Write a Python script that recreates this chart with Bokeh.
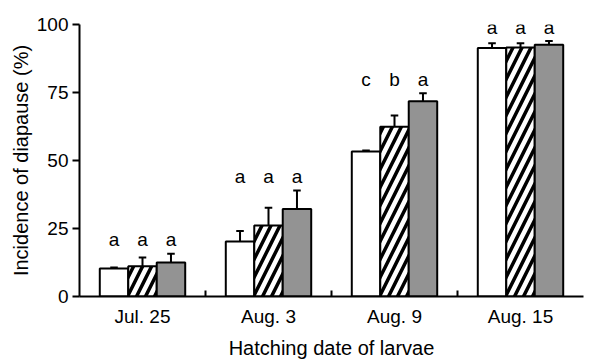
from bokeh.plotting import figure
from bokeh.models import Range1d, FixedTicker, ColumnDataSource
from bokeh.core.properties import value
from bokeh.embed import file_html
from bokeh.resources import INLINE

dates = ["Jul. 25", "Aug. 3", "Aug. 9", "Aug. 15"]
white_vals = [10.3, 20.2, 53.3, 91.4]
white_err = [0.4, 3.9, 0.4, 1.7]
hatch_vals = [11.1, 26.1, 62.4, 91.5]
hatch_err = [3.2, 6.5, 4.1, 1.6]
gray_vals = [12.5, 32.2, 71.8, 92.6]
gray_err = [3.2, 6.8, 2.9, 1.3]
white_letters = ["a", "a", "c", "a"]
hatch_letters = ["a", "a", "b", "a"]
gray_letters = ["a", "a", "a", "a"]
y_ticks = [0, 25, 50, 75, 100]

FONT = "Liberation Sans"
W = 0.226
CAP = 0.03

p = figure(frame_width=504, frame_height=272, output_backend="svg", toolbar_location=None,
           x_range=Range1d(0, len(dates)), y_range=Range1d(0, 100),
           min_border_left=79, min_border_right=1, min_border_top=24, min_border_bottom=57)
p.title.visible = False
p.outline_line_color = None
p.xgrid.visible = False
p.ygrid.visible = False
p.background_fill_color = "white"
p.border_fill_color = "white"

series = [
    (white_vals, white_err, white_letters, -W, dict(fill_color="white")),
    (hatch_vals, hatch_err, hatch_letters, 0.0, dict(fill_color="white", hatch_pattern="/",
                                                      hatch_color="black", hatch_scale=18, hatch_weight=3.5)),
    (gray_vals, gray_err, gray_letters, W, dict(fill_color="#939393")),
]

label_y = [max(w + we, h + he, g + ge) for w, we, h, he, g, ge in
           zip(white_vals, white_err, hatch_vals, hatch_err, gray_vals, gray_err)]

for vals, errs, letters, off, style in series:
    xs = [i + 0.5 + off for i in range(len(dates))]
    tops = [v + e for v, e in zip(vals, errs)]
    src = ColumnDataSource(dict(x=xs, xl=[x - CAP for x in xs], xr=[x + CAP for x in xs],
                                top=vals, etop=tops, lab=letters, ly=label_y))
    p.segment(x0="x", y0="top", x1="x", y1="etop", source=src, line_color="black", line_width=2)
    p.segment(x0="xl", y0="etop", x1="xr", y1="etop", source=src, line_color="black", line_width=2)
    p.vbar(x="x", top="top", bottom=0, width=W, source=src, line_color="black", line_width=2, **style)
    p.text(x="x", y="ly", text="lab", source=src, text_align="center", text_baseline="alphabetic",
           y_offset=-14, text_font=value(FONT), text_font_size="19px", text_color="black")

# y axis
ya = p.yaxis[0]
ya.ticker = FixedTicker(ticks=y_ticks)
ya.axis_line_width = 2
ya.major_tick_line_width = 2
ya.major_tick_out = 7
ya.major_tick_in = 0
ya.minor_tick_line_color = None
ya.major_label_text_font = FONT
ya.major_label_text_font_size = "19px"
ya.major_label_text_color = "black"
ya.major_label_standoff = 4
ya.axis_label = "Incidence of diapause (%)"
ya.axis_label_text_font = FONT
ya.axis_label_text_font_size = "20px"
ya.axis_label_text_font_style = "normal"
ya.axis_label_text_color = "black"
ya.axis_label_standoff = 2

# x axis
xa = p.xaxis[0]
centers = [i + 0.5 for i in range(len(dates))]
xa.ticker = FixedTicker(ticks=centers, minor_ticks=[float(i) for i in range(1, len(dates))])
xa.major_label_overrides = {c: d for c, d in zip(centers, dates)}
xa.axis_line_width = 2
xa.major_tick_line_color = None
xa.minor_tick_line_width = 2
xa.minor_tick_in = 6
xa.minor_tick_out = 0
xa.major_label_text_font = FONT
xa.major_label_text_font_size = "19px"
xa.major_label_text_font_style = "normal"
xa.major_label_text_color = "black"
xa.major_label_standoff = 3
xa.axis_label = "Hatching date of larvae"
xa.axis_label_text_font = FONT
xa.axis_label_text_font_size = "20px"
xa.axis_label_text_font_style = "normal"
xa.axis_label_text_color = "black"
xa.axis_label_standoff = 7

open("out.html", "w").write(file_html(p, INLINE))
